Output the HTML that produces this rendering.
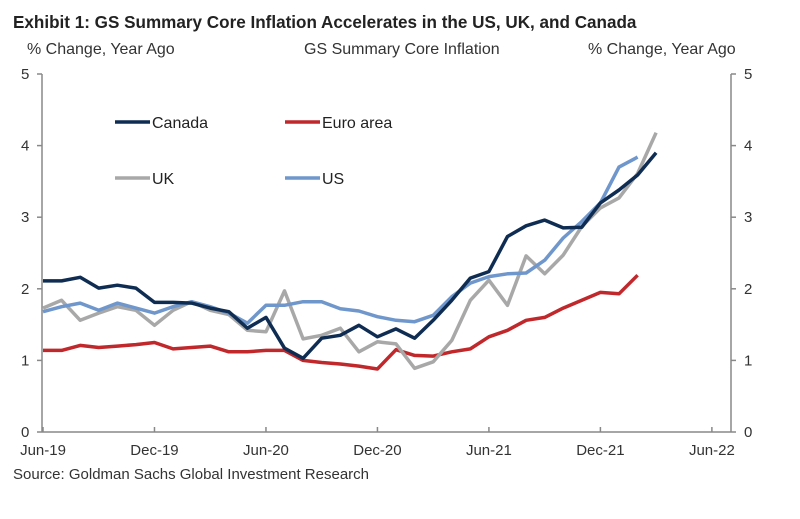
<!DOCTYPE html>
<html><head><meta charset="utf-8"><style>
body{margin:0;background:#fff;width:800px;height:514px;overflow:hidden;font-family:"Liberation Sans",Arial,sans-serif}
</style></head><body>
<svg width="800" height="514" viewBox="0 0 800 514" font-family="Liberation Sans, Arial, sans-serif">
<text x="13" y="28" font-size="17.1" font-weight="bold" fill="#222">Exhibit 1: GS Summary Core Inflation Accelerates in the US, UK, and Canada</text>
<text x="27" y="54" font-size="16" fill="#333">% Change, Year Ago</text>
<text x="304" y="54" font-size="16" fill="#333">GS Summary Core Inflation</text>
<text x="588" y="54" font-size="16" fill="#333">% Change, Year Ago</text>
<g id="axes" stroke="#888" stroke-width="1.5" fill="none"></g>
<g id="labels" font-size="15" fill="#333"></g>
<g id="series" fill="none" stroke-width="3.5" stroke-linejoin="round"></g>
<g font-size="16" fill="#222">
<line x1="115" y1="122" x2="150" y2="122" stroke="#0f2d52" stroke-width="3.5"/>
<text x="152" y="128">Canada</text>
<line x1="285" y1="122" x2="320" y2="122" stroke="#c0282b" stroke-width="3.5"/>
<text x="322" y="128">Euro area</text>
<line x1="115" y1="178" x2="150" y2="178" stroke="#a8a8a8" stroke-width="3.5"/>
<text x="152" y="184">UK</text>
<line x1="285" y1="178" x2="320" y2="178" stroke="#6f97cc" stroke-width="3.5"/>
<text x="322" y="184">US</text>
</g>
<text x="13" y="479" font-size="15" fill="#333">Source: Goldman Sachs Global Investment Research</text>
</svg>
<script>
const yTicks=[0,1,2,3,4,5];
const xTickLabels=["Jun-19","Dec-19","Jun-20","Dec-20","Jun-21","Dec-21","Jun-22"];
const canada=[2.11,2.11,2.16,2.01,2.05,2.01,1.81,1.81,1.8,1.73,1.68,1.45,1.6,1.17,1.03,1.31,1.35,1.49,1.33,1.44,1.31,1.56,1.84,2.15,2.24,2.73,2.88,2.96,2.85,2.86,3.2,3.38,3.59,3.9];
const euro=[1.14,1.14,1.21,1.18,1.2,1.22,1.25,1.16,1.18,1.2,1.12,1.12,1.14,1.14,1.0,0.97,0.95,0.92,0.88,1.15,1.07,1.06,1.12,1.16,1.33,1.42,1.56,1.6,1.73,1.84,1.95,1.93,2.19];
const uk=[1.73,1.84,1.56,1.66,1.75,1.7,1.49,1.7,1.82,1.7,1.64,1.42,1.4,1.97,1.3,1.35,1.45,1.12,1.26,1.23,0.89,0.98,1.28,1.84,2.12,1.77,2.46,2.21,2.47,2.87,3.13,3.27,3.61,4.18];
const us=[1.68,1.75,1.8,1.7,1.8,1.73,1.66,1.75,1.82,1.75,1.66,1.52,1.77,1.77,1.82,1.82,1.72,1.69,1.61,1.56,1.54,1.63,1.89,2.08,2.17,2.21,2.22,2.4,2.71,2.94,3.2,3.7,3.84];
const NS="http://www.w3.org/2000/svg";
const X0=43,DX=18.58,Y0=432,DY=71.6,XL=42,XR=731;
function xs(i){return X0+i*DX;}
function ys(v){return Y0-v*DY;}
function mk(tag,attrs,parent){const e=document.createElementNS(NS,tag);for(const k in attrs)e.setAttribute(k,attrs[k]);parent.appendChild(e);return e;}
const ax=document.getElementById('axes'),lb=document.getElementById('labels'),sr=document.getElementById('series');
let e;
e=mk('line',{x1:XL,y1:ys(5),x2:XL,y2:Y0},ax);


e=mk('line',{x1:XR,y1:ys(5),x2:XR,y2:Y0},ax);


e=mk('line',{x1:XL,y1:Y0,x2:XR,y2:Y0},ax);


yTicks.forEach(v=>{
 mk('line',{x1:XL-5,y1:ys(v),x2:XL,y2:ys(v)},ax);
 mk('line',{x1:XR,y1:ys(v),x2:XR+5,y2:ys(v)},ax);
 e=mk('text',{x:XL-21,y:ys(v)+5},lb);e.textContent=v;
 
 
 e=mk('text',{x:XR+13,y:ys(v)+5},lb);e.textContent=v;
 
 
});
xTickLabels.forEach((t,k)=>{
 const x=xs(k*6);
 mk('line',{x1:x,y1:Y0-5,x2:x,y2:Y0},ax);
 e=mk('text',{x:x,y:Y0+23,'text-anchor':'middle'},lb);e.textContent=t;
 
 
});
function line(d,c,n){
 const p=d.map((v,i)=>xs(i).toFixed(1)+','+ys(v).toFixed(1)).join(' ');
 const el=mk('polyline',{points:p,stroke:c},sr);
 
 
}
line(euro,'#c0282b','euro-area-line');
line(uk,'#a8a8a8','uk-line');
line(us,'#6f97cc','us-line');
line(canada,'#0f2d52','canada-line');
</script>
</body></html>
